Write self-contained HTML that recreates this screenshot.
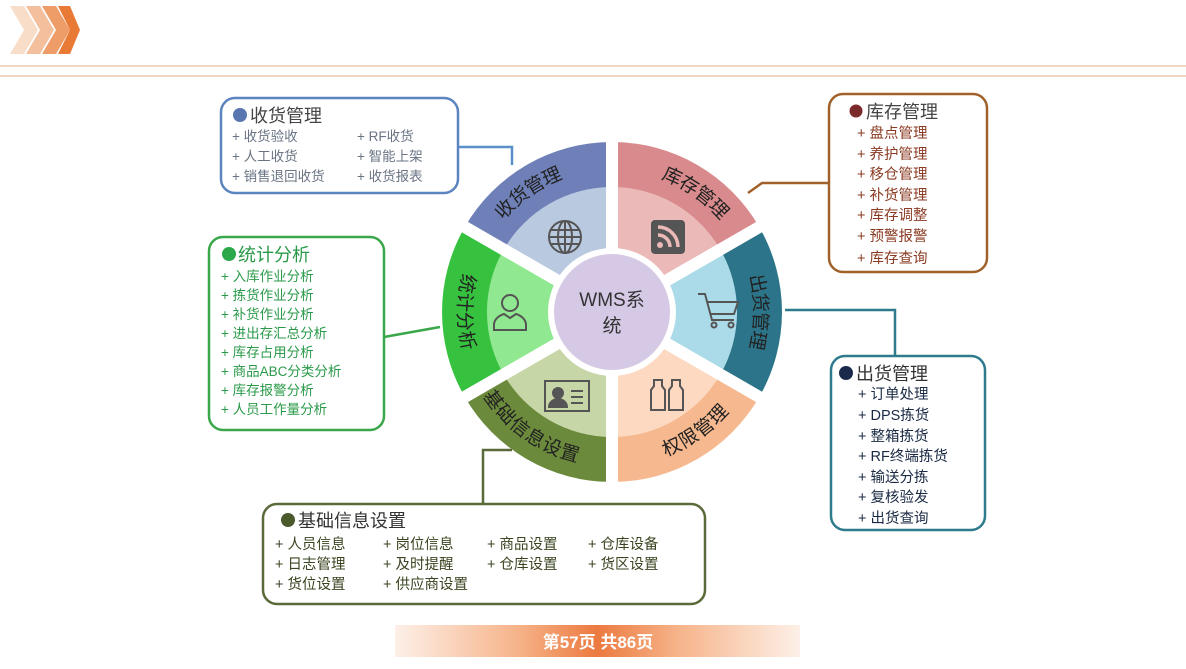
<!DOCTYPE html>
<html><head><meta charset="utf-8">
<style>
body{margin:0;background:#fff;}
svg text{font-family:"Liberation Sans","Noto Sans CJK SC",sans-serif;}
</style></head>
<body>
<svg width="1186" height="664" viewBox="0 0 1186 664" xmlns="http://www.w3.org/2000/svg">
<rect width="1186" height="664" fill="#fff"/>
<!-- header -->
<g>
<polygon points="10,6 24,6 38,30 24,54 10,54 24,30" fill="#f8ddc8"/>
<polygon points="26,6 40,6 54,30 40,54 26,54 40,30" fill="#f3bf9c"/>
<polygon points="42,6 56,6 70,30 56,54 42,54 56,30" fill="#ee9c68"/>
<polygon points="58,6 70,6 80,30 70,54 58,54 70,30" fill="#e97a36"/>
</g>
<line x1="0" y1="66" x2="1186" y2="66" stroke="#ecc9b0" stroke-width="1.5"/>
<line x1="0" y1="76" x2="1186" y2="76" stroke="#ecc9b0" stroke-width="1.5"/>

<!-- connectors -->
<g fill="none" stroke-width="2.5">
<polyline points="458,147 512,147 512,165" stroke="#5b8fc9"/>
<polyline points="828,183 762,183 748,193" stroke="#a0622a"/>
<polyline points="384,337 440,327" stroke="#3aa84a"/>
<polyline points="785,310 895,310 895,355" stroke="#2d7b8c"/>
<polyline points="483,503 483,450 512,450" stroke="#5a6a3a"/>
</g>

<!-- wheel -->
<g transform="translate(612,312)">
<defs>
<path id="arcTop1" d="M -128.2 -74 A 148 148 0 0 1 -25.7 -145.8"/>
<path id="arcTop2" d="M 25.7 -145.8 A 148 148 0 0 1 128.2 -74"/>
<path id="arcR" d="M 134 -63 A 148 148 0 0 1 134 63"/>
<path id="arcL" d="M -134 -63 A 148 148 0 0 0 -134 63"/>
<path id="arcB1" d="M -128.2 74 A 148 148 0 0 0 -25.7 145.8"/>
<path id="arcB2" d="M 25.7 145.8 A 148 148 0 0 0 128.2 74"/>
</defs>
<!-- outer sectors: angle centers -60(库存),0(出货),60(权限),120(基础),180(统计),240(收货) -->
<path d="M0,0 L-147.2,-85 A170,170 0 0 1 0,-170 Z" fill="#6f80b8"/>
<path d="M0,0 L0,-170 A170,170 0 0 1 147.2,-85 Z" fill="#d98a8c"/>
<path d="M0,0 L147.2,-85 A170,170 0 0 1 147.2,85 Z" fill="#2c7489"/>
<path d="M0,0 L147.2,85 A170,170 0 0 1 0,170 Z" fill="#f6b88e"/>
<path d="M0,0 L0,170 A170,170 0 0 1 -147.2,85 Z" fill="#6b8a3c"/>
<path d="M0,0 L-147.2,85 A170,170 0 0 1 -147.2,-85 Z" fill="#36c23e"/>
<!-- inner -->
<path d="M0,0 L-108.3,-62.5 A125,125 0 0 1 0,-125 Z" fill="#b9c9df"/>
<path d="M0,0 L0,-125 A125,125 0 0 1 108.3,-62.5 Z" fill="#ecb9b9"/>
<path d="M0,0 L108.3,-62.5 A125,125 0 0 1 108.3,62.5 Z" fill="#abdbe8"/>
<path d="M0,0 L108.3,62.5 A125,125 0 0 1 0,125 Z" fill="#fcd9c0"/>
<path d="M0,0 L0,125 A125,125 0 0 1 -108.3,62.5 Z" fill="#c6d6a6"/>
<path d="M0,0 L-108.3,62.5 A125,125 0 0 1 -108.3,-62.5 Z" fill="#90e890"/>
<!-- gaps -->
<g stroke="#fff" stroke-width="12">
<line x1="0" y1="0" x2="0" y2="-180"/>
<line x1="0" y1="0" x2="0" y2="180"/>
<line x1="0" y1="0" x2="156" y2="-90"/>
<line x1="0" y1="0" x2="156" y2="90"/>
<line x1="0" y1="0" x2="-156" y2="-90"/>
<line x1="0" y1="0" x2="-156" y2="90"/>
</g>
<circle r="64" fill="#fff"/>
<circle r="58" fill="#d5c9e6"/>
<text x="0" y="-6" text-anchor="middle" font-size="19" fill="#333">WMS系</text>
<text x="0" y="20" text-anchor="middle" font-size="19" fill="#333">统</text>
<g font-size="19" fill="#222" dominant-baseline="central">
<text><textPath href="#arcTop1" startOffset="50%" text-anchor="middle">收货管理</textPath></text>
<text><textPath href="#arcTop2" startOffset="50%" text-anchor="middle">库存管理</textPath></text>
<text><textPath href="#arcR" startOffset="50%" text-anchor="middle">出货管理</textPath></text>
<text><textPath href="#arcL" startOffset="50%" text-anchor="middle">统计分析</textPath></text>
<text><textPath href="#arcB1" startOffset="50%" text-anchor="middle">基础信息设置</textPath></text>
<text><textPath href="#arcB2" startOffset="50%" text-anchor="middle">权限管理</textPath></text>
</g>
<!-- icons -->
<g fill="none" stroke="#555" stroke-width="2">
<g transform="translate(-47,-75)"><circle r="16"/><ellipse rx="7" ry="16"/><line x1="-16" y1="0" x2="16" y2="0"/><line x1="-14" y1="-7" x2="14" y2="-7"/><line x1="-14" y1="7" x2="14" y2="7"/><line x1="0" y1="-16" x2="0" y2="16"/></g>
<g transform="translate(56,-75)"><rect x="-16" y="-16" width="32" height="32" rx="3" fill="#555"/><circle cx="-8" cy="8" r="3" fill="#ecb9b9" stroke="none"/><path d="M-10,-2 A12,12 0 0 1 2,10 M-10,-10 A20,20 0 0 1 10,10" stroke="#ecb9b9" stroke-width="3.5"/></g>
<g transform="translate(106,-2)"><path d="M-20,-16 L-13,-16 L-6,10 L16,10 M-11,-8 L20,-8 L16,4 L-8,4"/><circle cx="-4" cy="15" r="2.5"/><circle cx="13" cy="15" r="2.5"/></g>
<g transform="translate(56,84)"><path d="M-14,-16 h8 v6 l3,4 v20 h-14 v-20 l3,-4z M4,-16 h8 v6 l3,4 v20 h-14 v-20 l3,-4z"/></g>
<g transform="translate(-45,84)"><rect x="-22" y="-15" width="44" height="30"/><circle cx="-9" cy="-3" r="5" fill="#555"/><path d="M-18,11 a9,8 0 0 1 18,0z" fill="#555"/><line x1="4" y1="-5" x2="16" y2="-5"/><line x1="4" y1="1" x2="16" y2="1"/><line x1="4" y1="7" x2="16" y2="7"/></g>
<g transform="translate(-102,0)"><circle cx="0" cy="-9" r="8"/><path d="M-16,18 v-6 a16,12 0 0 1 10,-10 L0,6 L6,2 a16,12 0 0 1 10,10 v6z"/></g>
</g>
</g>

<!-- boxes -->
<g fill="#fff" stroke-width="2.5">
<rect x="221" y="98" width="237" height="95" rx="14" stroke="#5b84c0"/>
<rect x="829" y="94" width="158" height="178" rx="14" stroke="#a0622a"/>
<rect x="209" y="237" width="175" height="193" rx="14" stroke="#3aa84a"/>
<rect x="831" y="356" width="154" height="174" rx="14" stroke="#2d7b8c"/>
<rect x="263" y="504" width="442" height="100" rx="14" stroke="#5a6a3a"/>
</g>

<g font-size="18" fill="#444">
<circle cx="240" cy="115" r="7" fill="#5876b0"/><text x="250" y="122">收货管理</text>
<circle cx="856" cy="111" r="6.5" fill="#7a2a2a"/><text x="866" y="118">库存管理</text>
<circle cx="229" cy="254" r="7" fill="#2aa84a"/><text x="238" y="261" fill="#2a9a4a">统计分析</text>
<circle cx="846" cy="373" r="7" fill="#1a2a4a"/><text x="856" y="380" fill="#333">出货管理</text>
<circle cx="288" cy="520" r="7" fill="#4a5a2a"/><text x="298" y="527" fill="#333">基础信息设置</text>
</g>

<g font-size="13.5" fill="#6a7484">
<text x="232" y="141">+ 收货验收</text><text x="357" y="141">+ RF收货</text>
<text x="232" y="161">+ 人工收货</text><text x="357" y="161">+ 智能上架</text>
<text x="232" y="181">+ 销售退回收货</text><text x="357" y="181">+ 收货报表</text>
</g>
<g font-size="14.5" fill="#8a3a22">
<text x="857" y="138">+ 盘点管理</text>
<text x="857" y="159">+ 养护管理</text>
<text x="857" y="179">+ 移仓管理</text>
<text x="857" y="200">+ 补货管理</text>
<text x="857" y="220">+ 库存调整</text>
<text x="857" y="241">+ 预警报警</text>
<text x="857" y="263">+ 库存查询</text>
</g>
<g font-size="13.5" fill="#2a9a4a">
<text x="221" y="281">+ 入库作业分析</text>
<text x="221" y="300">+ 拣货作业分析</text>
<text x="221" y="319">+ 补货作业分析</text>
<text x="221" y="338">+ 进出存汇总分析</text>
<text x="221" y="357">+ 库存占用分析</text>
<text x="221" y="376">+ 商品ABC分类分析</text>
<text x="221" y="395">+ 库存报警分析</text>
<text x="221" y="414">+ 人员工作量分析</text>
</g>
<g font-size="14.5" fill="#1a2a44">
<text x="858" y="399">+ 订单处理</text>
<text x="858" y="420">+ DPS拣货</text>
<text x="858" y="441">+ 整箱拣货</text>
<text x="858" y="461">+ RF终端拣货</text>
<text x="858" y="482">+ 输送分拣</text>
<text x="858" y="502">+ 复核验发</text>
<text x="858" y="523">+ 出货查询</text>
</g>
<g font-size="14.5" fill="#3a4420">
<text x="275" y="549">+ 人员信息</text><text x="383" y="549">+ 岗位信息</text><text x="487" y="549">+ 商品设置</text><text x="588" y="549">+ 仓库设备</text>
<text x="275" y="569">+ 日志管理</text><text x="383" y="569">+ 及时提醒</text><text x="487" y="569">+ 仓库设置</text><text x="588" y="569">+ 货区设置</text>
<text x="275" y="589">+ 货位设置</text><text x="383" y="589">+ 供应商设置</text>
</g>

<!-- footer -->
<defs>
<linearGradient id="fg" x1="0" x2="1">
<stop offset="0" stop-color="#fdf0e8"/>
<stop offset="0.3" stop-color="#f6b48a"/>
<stop offset="0.5" stop-color="#ec7a40"/>
<stop offset="0.7" stop-color="#f6b48a"/>
<stop offset="1" stop-color="#fdf0e8"/>
</linearGradient>
</defs>
<rect x="395" y="625" width="405" height="32" fill="url(#fg)"/>
<text x="598" y="648" text-anchor="middle" font-size="17" font-weight="bold" fill="#fff">第57页 共86页</text>
</svg>
</body></html>
